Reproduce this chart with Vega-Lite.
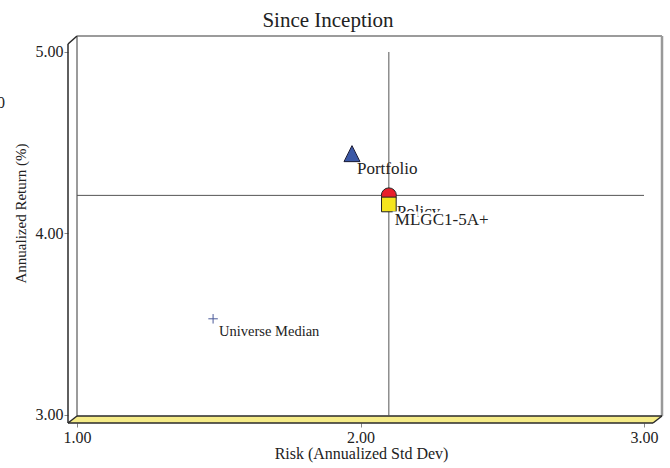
{
  "$schema": "https://vega.github.io/schema/vega-lite/v6.json",
  "width": 594,
  "height": 387,
  "autosize": {"type": "none"},
  "padding": {"left": 68, "top": 36, "right": 8, "bottom": 45},
  "background": "white",
  "config": {
    "view": {"stroke": null},
    "font": "Liberation Serif",
    "axis": {
      "domain": false,
      "grid": false,
      "tickColor": "#888888",
      "tickSize": 4,
      "labelFont": "Liberation Serif",
      "labelFontSize": 15,
      "labelColor": "#222222",
      "titleFont": "Liberation Serif",
      "titleFontWeight": "normal",
      "titleColor": "#222222"
    }
  },
  "title": {
    "text": "Since Inception",
    "font": "Liberation Serif",
    "fontSize": 21,
    "fontWeight": "normal",
    "color": "#222222",
    "anchor": "middle",
    "frame": "group",
    "dx": -37,
    "offset": 4
  },
  "datasets": {
    "floor": [
      {"x": 0.96825, "y": 2.95592, "y2": 2.95592},
      {"x": 1.0, "y": 2.95592, "y2": 2.9945},
      {"x": 3.03175, "y": 2.95592, "y2": 2.9945},
      {"x": 3.06349, "y": 2.9945, "y2": 2.9945}
    ],
    "frame": [
      {"part": "front-left", "kind": "front", "x": 0.96825, "y": 2.95592, "x2": 0.96825, "y2": 5.04408},
      {"part": "front-bottom", "kind": "front", "x": 0.96825, "y": 2.95592, "x2": 3.03175, "y2": 2.95592},
      {"part": "corner-top-left", "kind": "front", "x": 0.96825, "y": 5.04408, "x2": 1.0, "y2": 5.08815},
      {"part": "corner-bottom-left", "kind": "front", "x": 0.96825, "y": 2.95592, "x2": 1.0, "y2": 2.9945},
      {"part": "corner-bottom-right", "kind": "front", "x": 3.03175, "y": 2.95592, "x2": 3.06349, "y2": 2.9945},
      {"part": "back-bottom", "kind": "front", "x": 1.0, "y": 2.9945, "x2": 3.06349, "y2": 2.9945},
      {"part": "back-left", "kind": "back", "x": 1.0, "y": 2.9945, "x2": 1.0, "y2": 5.08815},
      {"part": "back-top", "kind": "back", "x": 1.0, "y": 5.08815, "x2": 3.06349, "y2": 5.08815},
      {"part": "back-right", "kind": "side", "x": 3.06349, "y": 2.9945, "x2": 3.06349, "y2": 5.08815}
    ],
    "cross": [
      {"line": "vertical", "x": 2.10, "x2": 2.10, "y": 5.0, "y2": 2.9945},
      {"line": "horizontal", "x": 1.0, "x2": 3.0, "y": 4.21, "y2": 4.21}
    ],
    "points": [
      {"name": "Portfolio", "x": 1.97, "y": 4.44},
      {"name": "Policy", "x": 2.10, "y": 4.21},
      {"name": "MLGC1-5A+", "x": 2.10, "y": 4.16},
      {"name": "Universe Median", "x": 1.48, "y": 3.53}
    ],
    "stray": [
      {"label": "0", "x": 0.7178, "y": 4.719}
    ]
  },
  "encoding": {
    "x": {
      "field": "x",
      "type": "quantitative",
      "scale": {"domain": [0.96825, 3.06349], "nice": false, "zero": false},
      "axis": {
        "values": [1, 2, 3],
        "format": ".2f",
        "labelFontSize": 16,
        "labelPadding": 2,
        "title": "Risk (Annualized Std Dev)",
        "titleFontSize": 16,
        "titleX": 293,
        "titleY": 35,
        "titleBaseline": "alphabetic",
        "titleAlign": "center"
      }
    },
    "y": {
      "field": "y",
      "type": "quantitative",
      "scale": {"domain": [2.95592, 5.08815], "nice": false, "zero": false},
      "axis": {
        "values": [3, 4, 5],
        "format": ".2f",
        "labelFontSize": 16,
        "labelPadding": 1,
        "title": "Annualized Return (%)",
        "titleFontSize": 15,
        "titleAngle": 270,
        "titleX": -48,
        "titleY": 177,
        "titleBaseline": "middle",
        "titleAlign": "center"
      }
    }
  },
  "layer": [
    {
      "data": {"name": "floor"},
      "mark": {"type": "area", "color": "#f6ec88", "clip": false, "orient": "vertical"},
      "encoding": {"y2": {"field": "y2"}}
    },
    {
      "data": {"name": "frame"},
      "transform": [{"filter": "datum.kind === 'back'"}],
      "mark": {"type": "rule", "color": "#7a7a7a", "strokeWidth": 1.5, "clip": false},
      "encoding": {"x2": {"field": "x2"}, "y2": {"field": "y2"}}
    },
    {
      "data": {"name": "frame"},
      "transform": [{"filter": "datum.kind === 'side'"}],
      "mark": {"type": "rule", "color": "#999999", "strokeWidth": 2.5, "clip": false},
      "encoding": {"x2": {"field": "x2"}, "y2": {"field": "y2"}}
    },
    {
      "data": {"name": "frame"},
      "transform": [{"filter": "datum.kind === 'front'"}],
      "mark": {"type": "rule", "color": "#2a2a2a", "strokeWidth": 1.5, "clip": false},
      "encoding": {"x2": {"field": "x2"}, "y2": {"field": "y2"}}
    },
    {
      "data": {"name": "cross"},
      "mark": {"type": "rule", "color": "#555555", "strokeWidth": 1},
      "encoding": {"x2": {"field": "x2"}, "y2": {"field": "y2"}}
    },
    {
      "data": {"name": "points"},
      "transform": [{"filter": "datum.name === 'Portfolio'"}],
      "mark": {"type": "point", "shape": "M0,-1L1,1L-1,1Z", "size": 256, "filled": true, "fill": "#3b58a6", "stroke": "#1a1a33", "strokeWidth": 1, "opacity": 1}
    },
    {
      "data": {"name": "points"},
      "transform": [{"filter": "datum.name === 'Universe Median'"}],
      "mark": {"type": "point", "shape": "M-1,0L1,0M0,-1L0,1", "size": 90, "filled": false, "stroke": "#4a5a99", "strokeWidth": 1, "opacity": 1}
    },
    {
      "data": {"name": "points"},
      "transform": [{"filter": "datum.name === 'Policy'"}],
      "mark": {"type": "point", "shape": "circle", "size": 225, "filled": true, "fill": "#e8202a", "stroke": "#222222", "strokeWidth": 1, "opacity": 1}
    },
    {
      "data": {"name": "points"},
      "transform": [{"filter": "datum.name === 'MLGC1-5A+'"}],
      "mark": {"type": "point", "shape": "square", "size": 215, "filled": true, "fill": "#f5e51e", "stroke": "#222222", "strokeWidth": 1, "opacity": 1}
    },
    {
      "data": {"name": "points"},
      "transform": [{"filter": "datum.name === 'Portfolio'"}],
      "mark": {"type": "text", "align": "left", "baseline": "alphabetic", "dx": 5, "dy": 20, "font": "Liberation Serif", "fontSize": 17, "fill": "#222222"},
      "encoding": {"text": {"field": "name"}}
    },
    {
      "data": {"name": "points"},
      "transform": [{"filter": "datum.name === 'Policy'"}],
      "mark": {"type": "text", "align": "left", "baseline": "alphabetic", "dx": 8, "dy": 22, "font": "Liberation Serif", "fontSize": 17, "fill": "#222222"},
      "encoding": {"text": {"field": "name"}}
    },
    {
      "data": {"name": "points"},
      "transform": [{"filter": "datum.name === 'MLGC1-5A+'"}],
      "mark": {"type": "text", "align": "left", "baseline": "alphabetic", "dx": 6, "dy": 20.5, "font": "Liberation Serif", "fontSize": 17, "fill": "white", "stroke": "white", "strokeWidth": 5},
      "encoding": {"text": {"field": "name"}}
    },
    {
      "data": {"name": "points"},
      "transform": [{"filter": "datum.name === 'MLGC1-5A+'"}],
      "mark": {"type": "text", "align": "left", "baseline": "alphabetic", "dx": 6, "dy": 20.5, "font": "Liberation Serif", "fontSize": 17, "fill": "#222222"},
      "encoding": {"text": {"field": "name"}}
    },
    {
      "data": {"name": "points"},
      "transform": [{"filter": "datum.name === 'Universe Median'"}],
      "mark": {"type": "text", "align": "left", "baseline": "alphabetic", "dx": 6, "dy": 17, "font": "Liberation Serif", "fontSize": 14.5, "fill": "#222222"},
      "encoding": {"text": {"field": "name"}}
    },
    {
      "data": {"name": "stray"},
      "mark": {"type": "text", "align": "left", "baseline": "middle", "font": "Liberation Serif", "fontSize": 16, "fill": "#222222", "clip": false},
      "encoding": {"text": {"field": "label"}}
    }
  ]
}
